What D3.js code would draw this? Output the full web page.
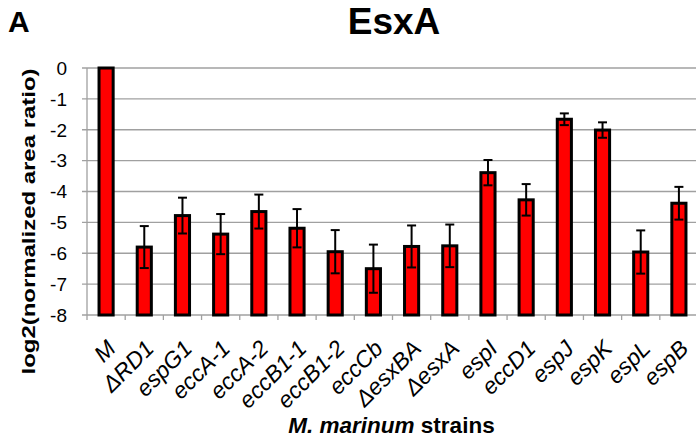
<!DOCTYPE html>
<html>
<head>
<meta charset="utf-8">
<script src="https://cdn.jsdelivr.net/npm/d3@7"></script>
<style>
  body { margin: 0; background: #fff; }
  text { font-family: "Liberation Sans", Arial, sans-serif; }
</style>
</head>
<body>
<div id="container"></div>
<script>
/* CONSTANTS AND GLOBALS */
const width = 696;
const height = 443;
const plotLeft = 87, plotRight = 698, plotTop = 68, plotBottom = 315;

/* DATA */
const strains = ["M", "ΔRD1", "espG1", "eccA-1", "eccA-2", "eccB1-1", "eccB1-2", "eccCb",
                 "ΔesxBA", "ΔesxA", "espI", "eccD1", "espJ", "espK", "espL", "espB"];
const values = [0, -5.8, -4.78, -5.38, -4.65, -5.19, -5.95, -6.5,
                -5.78, -5.76, -3.39, -4.27, -1.66, -2.01, -5.96, -4.38];
const errors = [0, 0.68, 0.58, 0.65, 0.55, 0.62, 0.7, 0.78,
                0.68, 0.69, 0.41, 0.51, 0.19, 0.25, 0.7, 0.53];
const yTicks = [0, -1, -2, -3, -4, -5, -6, -7, -8];

const data = strains.map((s, i) => ({ strain: s, value: values[i], err: errors[i] }));

/* SCALES */
const yScale = d3.scaleLinear()
  .domain([-8, 0])
  .range([plotBottom, plotTop]);

const xScale = d3.scaleBand()
  .domain(strains)
  .range([plotLeft, plotRight])
  .paddingInner(0.63)
  .paddingOuter(0.315);

// band edges for the category ticks
const xEdges = d3.scaleBand()
  .domain(strains)
  .range([plotLeft, plotRight]);

const svg = d3.select("#container")
  .append("svg")
  .attr("width", width)
  .attr("height", height);

// gridlines
svg.append("g")
  .selectAll("line")
  .data(yTicks)
  .join("line")
  .attr("x1", plotLeft - 5)
  .attr("x2", plotRight)
  .attr("y1", d => yScale(d))
  .attr("y2", d => yScale(d))
  .attr("stroke", "#a0a0a0")
  .attr("stroke-width", 1.3);

// y axis line
svg.append("line")
  .attr("x1", plotLeft).attr("x2", plotLeft)
  .attr("y1", plotTop).attr("y2", plotBottom)
  .attr("stroke", "#a0a0a0")
  .attr("stroke-width", 1.3);

// x ticks at band edges
svg.append("g")
  .selectAll("line")
  .data(strains.map(s => xEdges(s)).concat([plotRight]))
  .join("line")
  .attr("x1", d => d).attr("x2", d => d)
  .attr("y1", plotBottom).attr("y2", plotBottom + 5)
  .attr("stroke", "#a0a0a0")
  .attr("stroke-width", 1.3);

// y tick labels
svg.append("g")
  .selectAll("text")
  .data(yTicks)
  .join("text")
  .attr("x", 67)
  .attr("y", d => yScale(d))
  .attr("dy", "0.36em")
  .attr("text-anchor", "end")
  .style("font-size", "19px")
  .text(d => d);

// Bars
svg.append("g")
  .selectAll("rect")
  .data(data)
  .join("rect")
  .attr("x", d => xScale(d.strain))
  .attr("y", d => yScale(d.value))
  .attr("width", xScale.bandwidth())
  .attr("height", d => yScale(-8) - yScale(d.value))
  .attr("fill", "#ff0000")
  .attr("stroke", "#000")
  .attr("stroke-width", 3);

// error bars
const eb = svg.append("g")
  .selectAll("g")
  .data(data.filter(d => d.err > 0))
  .join("g")
  .attr("stroke", "#000")
  .attr("stroke-width", 2);

const cx = d => xScale(d.strain) + xScale.bandwidth() / 2;
eb.append("line")
  .attr("x1", cx).attr("x2", cx)
  .attr("y1", d => yScale(d.value + d.err))
  .attr("y2", d => yScale(d.value - d.err));
[1, -1].forEach(sign => {
  eb.append("line")
    .attr("x1", d => cx(d) - 4.5).attr("x2", d => cx(d) + 4.5)
    .attr("y1", d => yScale(d.value + sign * d.err))
    .attr("y2", d => yScale(d.value + sign * d.err));
});

// x labels
svg.append("g")
  .selectAll("text")
  .data(strains)
  .join("text")
  .attr("transform", d => `translate(${xScale(d) + xScale.bandwidth() / 2 + 11},350) rotate(-45)`)
  .attr("text-anchor", "end")
  .style("font-size", "23px")
  .style("font-style", "italic")
  .text(d => d);

// titles
svg.append("text")
  .attr("x", 8).attr("y", 32)
  .style("font-size", "30px")
  .style("font-weight", "bold")
  .text("A");

svg.append("text")
  .attr("x", 394).attr("y", 34)
  .attr("text-anchor", "middle")
  .style("font-size", "37px")
  .style("font-weight", "bold")
  .text("EsxA");

svg.append("text")
  .attr("transform", "rotate(-90)")
  .attr("x", -221.5)
  .attr("y", 35)
  .attr("text-anchor", "middle")
  .attr("textLength", 306)
  .attr("lengthAdjust", "spacingAndGlyphs")
  .style("font-size", "18px")
  .style("font-weight", "bold")
  .text("log2(normalized area ratio)");

const xt = svg.append("text")
  .attr("x", 391.5).attr("y", 433)
  .attr("text-anchor", "middle")
  .style("font-size", "22.5px")
  .style("font-weight", "bold");
xt.append("tspan").style("font-style", "italic").text("M. marinum");
xt.append("tspan").text(" strains");
</script>
</body>
</html>
